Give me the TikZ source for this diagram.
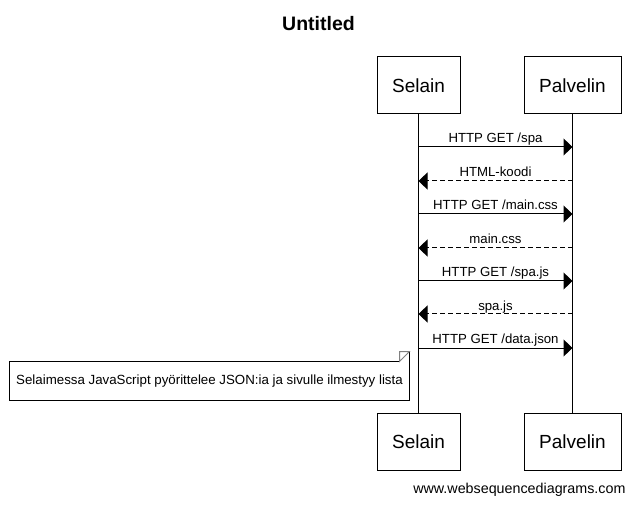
\documentclass[tikz,border=0pt]{standalone}
\usepackage{fontspec}
\setmainfont{Liberation Sans}
\usetikzlibrary{arrows.meta}
\begin{document}
\begin{tikzpicture}[x=1pt,y=-1pt,line width=1pt,
  actor/.style={draw,minimum height=57pt,inner sep=0pt,font=\fontsize{19}{22}\selectfont},
  msg/.style={-{Triangle[length=9pt,width=17pt]}},
  reply/.style={msg,dash pattern=on 5pt off 3pt},
  lbl/.style={midway,anchor=base,inner sep=0pt,yshift=4pt,font=\fontsize{13.2}{15}\selectfont},
  notebox/.style={minimum width=399pt,minimum height=38pt,inner sep=0pt,font=\fontsize{13.3}{15}\selectfont}]
\useasboundingbox (0,0) rectangle (635,505);
\node[font=\fontsize{19.5}{23}\selectfont\bfseries] (title) at (318.5,24) {Untitled};
\node[actor,minimum width=83pt] (sT) at (418.5,85.5) {Selain};
\node[actor,minimum width=97pt] (pT) at (572.5,85.5) {Palvelin};
\node[actor,minimum width=83pt] (sB) at (418.5,441.5) {Selain};
\node[actor,minimum width=97pt] (pB) at (572.5,441.5) {Palvelin};
\draw (sT) -- (sB);
\draw (pT) -- (pB);
\foreach \i/\y in {1/147,2/181,3/214,4/248,5/281,6/314,7/348}{
  \coordinate (s\i) at (sT.south |- 0,\y);
  \coordinate (p\i) at (pT.south |- 0,\y);
}
\draw[msg] (s1) -- node[lbl]{HTTP GET /spa} (p1);
\draw[reply] (p2) -- node[lbl]{HTML-koodi} (s2);
\draw[msg] (s3) -- node[lbl]{HTTP GET /main.css} (p3);
\draw[reply] (p4) -- node[lbl]{main.css} (s4);
\draw[msg] (s5) -- node[lbl]{HTTP GET /spa.js} (p5);
\draw[reply] (p6) -- node[lbl]{spa.js} (s6);
\draw[msg] (s7) -- node[lbl]{HTTP GET /data.json} (p7);
\node[notebox] (note) at (209.5,381) {Selaimessa JavaScript pyörittelee JSON:ia ja sivulle ilmestyy lista};
\draw ([xshift=-10pt]note.north east) -- (note.north west) -- (note.south west) -- (note.south east) -- ([yshift=10pt]note.north east);
\draw[gray] ([xshift=-10pt]note.north east) -- ([yshift=10pt]note.north east)
  -- ([xshift=-10pt,yshift=10pt]note.north east) -- cycle;
\node[anchor=base east,inner sep=0pt,font=\fontsize{14.3}{16}\selectfont] (web) at (626,493) {www.websequencediagrams.com};
\end{tikzpicture}
\end{document}
